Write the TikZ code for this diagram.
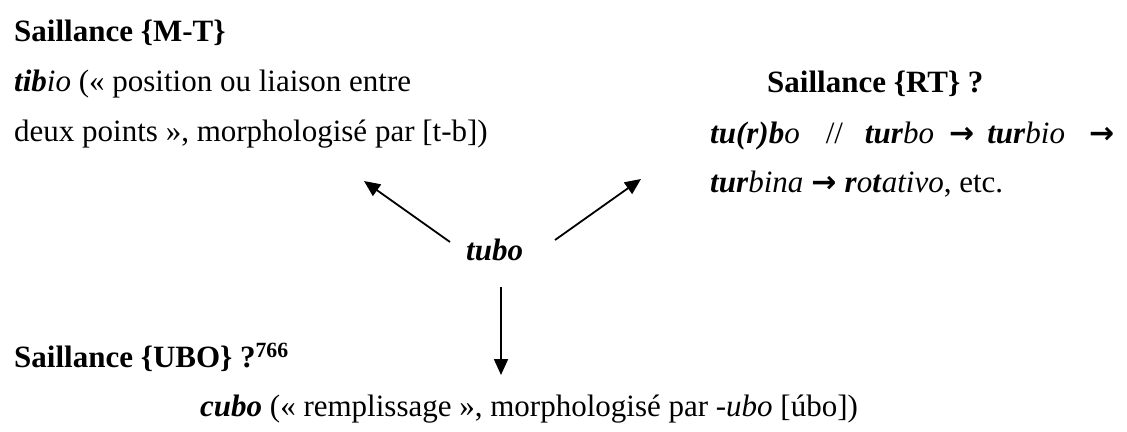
\documentclass[tikz,border=0pt]{standalone}
\usepackage{fontspec}
\setmainfont{Liberation Serif}
\newfontfamily\arrowfont{DejaVu Sans}
\usetikzlibrary{arrows.meta}
\newcommand\bi[1]{\textbf{\textit{#1}}}
\newcommand\rarr{{\arrowfont\bfseries\fontsize{30}{34}\selectfont →}}
\tikzset{
  txt/.style={anchor=base west, inner sep=0pt, font=\fontsize{31}{37}\selectfont},
  arr/.style={-{Triangle[width=14pt,length=16pt]}, line width=1.8pt}
}
\begin{document}
\begin{tikzpicture}[x=1pt,y=1pt]
\useasboundingbox[fill=white] (0,0) rectangle (1127,-431);
\node[txt] (smt) at (14,-41) {\textbf{Saillance \{M-T\}}};
\node[txt] (tib1) at (14,-91) {\bi{tib}\textit{io} (« position ou liaison entre};
\node[txt] (tib2) at (14,-141) {deux points », morphologisé par [t-b])};
\node[txt] (srt) at (767,-92) {\textbf{Saillance \{RT\} ?}};
\node[txt] (rt1) at (710,-143) {\bi{tu(r)b}\textit{o}\hspace{26pt}//\hspace{22pt}\bi{tur}\textit{bo}\hspace{15pt}\rarr\hspace{13pt}\bi{tur}\textit{bio}\hspace{24pt}\rarr};
\node[txt] (rt2) at (710,-192) {\bi{tur}\textit{bina}\hspace{8pt}\rarr\hspace{8pt}\bi{r}\textit{o}\bi{t}\textit{ativo}, etc.};
\node[txt] (tubo) at (466,-260) {\bi{tubo}};
\node[txt] (subo) at (14,-367) {\textbf{Saillance \{UBO\} ?\textsuperscript{766}}};
\node[txt] (cubo) at (200,-416) {\bi{cubo} (« remplissage », morphologisé par -\textit{ubo} [úbo])};
\coordinate (ltail) at (450,-242);
\coordinate (ltip) at (364,-181);
\coordinate (rtail) at (555,-240);
\coordinate (rtip) at (641,-179);
\coordinate (dtail) at (501,-287);
\coordinate (dtip) at (501,-375);
\draw[arr] (ltail) -- (ltip);
\draw[arr] (rtail) -- (rtip);
\draw[arr] (dtail) -- (dtip);
\end{tikzpicture}
\end{document}
